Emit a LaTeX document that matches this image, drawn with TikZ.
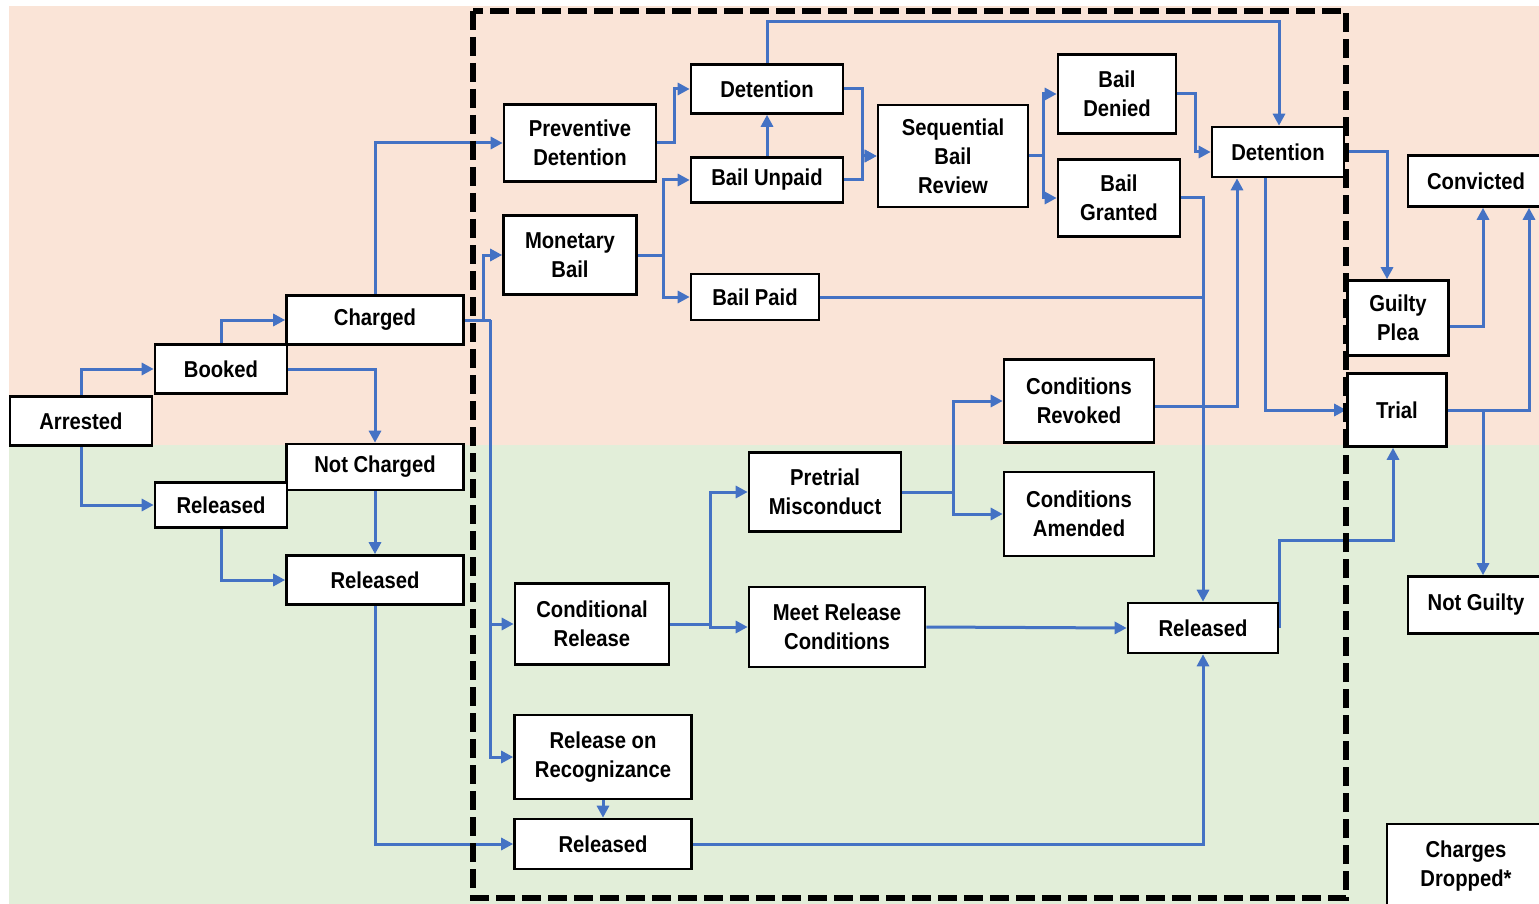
\documentclass[tikz,border=0pt]{standalone}
\usepackage{fontspec}
\setmainfont{Liberation Sans}[FakeStretch=0.88]
\usetikzlibrary{arrows.meta,calc}
\definecolor{peach}{HTML}{FAE4D7}
\definecolor{mint}{HTML}{E2EED9}
\definecolor{flow}{HTML}{4472C4}
\pgfdeclarelayer{bg}
\pgfsetlayers{bg,main}
\tikzset{
  box/.style={draw=black, line width=2.6pt, fill=white, inner sep=0pt, align=center,
    font=\fontsize{23}{29}\selectfont\bfseries},
  arr/.style={draw=flow, line width=3pt, -{Triangle[length=12pt,width=12pt]}},
  ln/.style={draw=flow, line width=3pt},
  frame/.style={draw=black, line width=6pt, dash pattern=on 19pt off 7pt}
}
\begin{document}
\begin{tikzpicture}[x=1pt,y=-1pt]
\useasboundingbox (0,0) rectangle (1539,904);
\clip (0,0) rectangle (1539,904);

% nodes
\node[box, minimum width=142pt, minimum height=49pt] (arrested) at (81,421) {Arrested};
\node[box, minimum width=132pt, minimum height=49pt] (booked) at (221,369) {Booked};
\node[box, minimum width=177pt, minimum height=49pt] (charged) at (375,320) {Charged};
\node[box, minimum width=177pt, minimum height=46pt] (notcharged) at (375,467) {Not Charged};
\node[box, minimum width=132pt, minimum height=45pt] (rel1) at (221,505) {Released};
\node[box, minimum width=177pt, minimum height=49pt] (rel2) at (375,580) {Released};
\node[box, minimum width=152pt, minimum height=77pt] (prev) at (580,143) {Preventive\\Detention};
\node[box, minimum width=133pt, minimum height=79pt] (monetary) at (570,255) {Monetary\\Bail};
\node[box, minimum width=152pt, minimum height=49pt] (det1) at (767,89) {Detention};
\node[box, minimum width=152pt, minimum height=45pt] (unpaid) at (767,180) {Bail Unpaid};
\node[box, minimum width=128pt, minimum height=46pt] (paid) at (755,297) {Bail Paid};
\node[box, minimum width=150pt, minimum height=102pt] (seq) at (953,156) {Sequential\\Bail\\Review};
\node[box, minimum width=118pt, minimum height=79pt] (denied) at (1117,94) {Bail\\Denied};
\node[box, minimum width=122pt, minimum height=77pt] (granted) at (1119,198) {Bail\\Granted};
\node[box, minimum width=132pt, minimum height=50pt] (det2) at (1278,152) {Detention};
\node[box, minimum width=136pt, minimum height=51pt] (convicted) at (1476,181) {Convicted};
\node[box, minimum width=101pt, minimum height=75pt] (guilty) at (1398,318) {Guilty\\Plea};
\node[box, minimum width=99pt, minimum height=73pt] (trial) at (1397,410) {Trial};
\node[box, minimum width=136pt, minimum height=57pt] (notguilty) at (1476,605) {Not Guilty};
\node[box, minimum width=158pt, minimum height=84pt] (dropped) at (1466,866) {Charges\\Dropped*};
\node[box, minimum width=150pt, minimum height=83pt] (revoked) at (1079,401) {Conditions\\Revoked};
\node[box, minimum width=150pt, minimum height=84pt] (amended) at (1079,514) {Conditions\\Amended};
\node[box, minimum width=152pt, minimum height=79pt] (misconduct) at (825,492) {Pretrial\\Misconduct};
\node[box, minimum width=154pt, minimum height=81pt] (condrel) at (592,624) {Conditional\\Release};
\node[box, minimum width=176pt, minimum height=80pt] (meet) at (837,627) {Meet Release\\Conditions};
\node[box, minimum width=150pt, minimum height=50pt] (rel3) at (1203,628) {Released};
\node[box, minimum width=177pt, minimum height=84pt] (ror) at (603,757) {Release on\\Recognizance};
\node[box, minimum width=177pt, minimum height=50pt] (rel4) at (603,844) {Released};

\coordinate (cj1) at ($(charged.east)+(19pt,0)$);
\coordinate (cj2) at ($(charged.east)+(26pt,0)$);
\coordinate (cvA) at ([xshift=7pt]convicted.south);
\coordinate (cvB) at ([xshift=53pt]convicted.south);
\coordinate (tj) at (trial.east -| cvA);

\begin{pgfonlayer}{bg}
\fill[white] (0,0) rectangle (1539,904);
\fill[peach] (9,6) rectangle (1539,445);
\fill[mint] (9,445) rectangle (1539,904);

\draw[arr] (arrested.north) |- (booked.west);
\draw[arr] (arrested.south) |- (rel1.west);
\draw[arr] (booked.north) |- (charged.west);
\draw[arr] (booked.east) -| (notcharged.north);
\draw[arr] (notcharged.south) -- (rel2.north);
\draw[arr] (rel1.south) |- (rel2.west);
\draw[arr] (charged.north) |- (prev.west);
\draw[ln] (charged.east) -- (cj2);
\draw[arr] (cj1) |- (monetary.west);
\draw[arr] (cj2) |- (condrel.west);
\draw[arr] (cj2) |- (ror.west);
\draw[arr] (rel2.south) |- (rel4.west);
\draw[arr] (prev.east) -- ++(17pt,0) |- (det1.west);
\draw[arr] (monetary.east) -- ++(26pt,0) |- (unpaid.west);
\draw[arr] (monetary.east) -- ++(26pt,0) |- (paid.west);
\draw[arr] (unpaid.north) -- (det1.south);
\draw[arr] (det1.east) -- ++(18pt,0) |- (seq.west);
\draw[arr] (unpaid.east) -- ++(18pt,0) |- (seq.west);
\draw[arr] (det1.north) -- ++(0,-42) -| ([xshift=1pt]det2.north);
\draw[arr] (seq.east) -- ++(14pt,0) |- (denied.west);
\draw[arr] (seq.east) -- ++(14pt,0) |- (granted.west);
\draw[arr] (denied.east) -- ++(18pt,0) |- (det2.west);
\draw[arr] (granted.east) -| (rel3.north);
\draw[ln] (paid.east) -- (paid.east -| rel3.north);
\draw[arr] ([yshift=-5pt]revoked.east) -| ([xshift=-41pt]det2.south);
\draw[arr] (det2.east) -| ([xshift=-11pt]guilty.north);
\draw[arr] ([xshift=-13pt]det2.south) |- (trial.west);
\draw[arr] ([yshift=-8pt]guilty.east) -| (cvA);
\draw[arr] (trial.east) -| (cvB);
\draw[arr] (tj) -- (tj |- notguilty.north);
\draw[arr] (rel3.east) -- ++(0,-88) -| ([xshift=-4pt]trial.south);
\draw[arr] (condrel.east) -- ++(40pt,0) |- (misconduct.west);
\draw[arr] (condrel.east) -- ++(40pt,0) |- (meet.west);
\draw[arr] (misconduct.east) -- ++(51pt,0) |- (revoked.west);
\draw[arr] (misconduct.east) -- ++(51pt,0) |- (amended.west);
\draw[arr] (meet.east) -- (rel3.west);
\draw[arr] (ror.south) -- (rel4.north);
\draw[arr] (rel4.east) -| (rel3.south);
\end{pgfonlayer}

% dashed frame
\draw[frame] (473,11) rectangle (1346,898);
\end{tikzpicture}
\end{document}
